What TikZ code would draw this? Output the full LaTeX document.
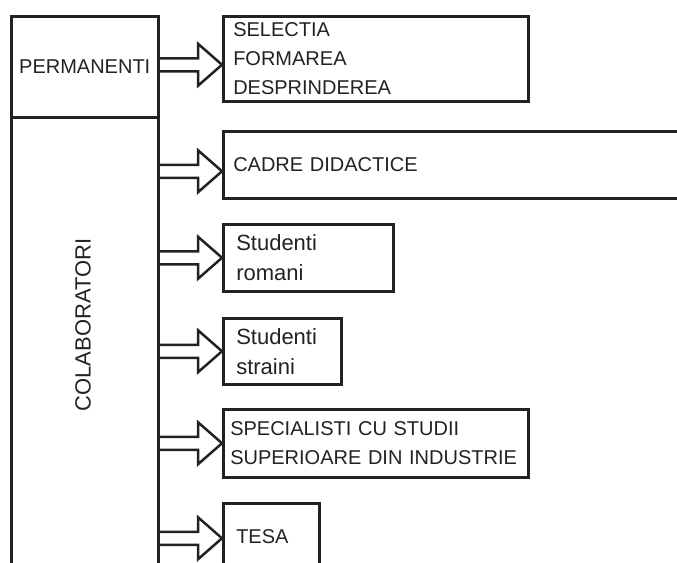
\documentclass[tikz,border=0pt]{standalone}
\usepackage{fontspec}
\setmainfont{Liberation Sans}
\usetikzlibrary{calc}
\hyphenpenalty=10000
\definecolor{ink}{RGB}{34,34,34}
\tikzset{frame/.style={draw=ink,line width=2.5pt,rectangle,inner sep=0pt},
 entry/.style={frame,anchor=north west,inner xsep=10pt,align=left,text=ink,
   font=\fontsize{20}{29}\selectfont},
 lower/.style={font=\fontsize{22}{30}\selectfont},
 fatline/.style={draw=ink,line width=2.5pt},
 every picture/.style={line join=miter}}
\newcommand{\fatarrow}[2]{%
\draw[fatline] ($(#1)+(0,-6.5)$) -- ($(#2)+(-24,-6.5)$) -- ($(#2)+(-24,-21)$) -- (#2)
 -- ($(#2)+(-24,21)$) -- ($(#2)+(-24,6.5)$) -- ($(#1)+(0,6.5)$);}
\begin{document}
\begin{tikzpicture}[x=1pt,y=-1pt]
\useasboundingbox (0,0) rectangle (677,562);
\node[frame,anchor=north west,minimum width=147pt,minimum height=101pt,text=ink,
 font=\fontsize{20}{24}\selectfont] (perm) at (10,15) {PERMANENTI};
\node[frame,anchor=north west,minimum width=147pt,minimum height=460pt] (colab) at (10,116) {};
\node[rotate=90,text=ink,font=\fontsize{22}{26}\selectfont] (colabtxt) at (83,325) {COLABORATORI};
\node[entry,text width=285pt,minimum height=85pt] (b1) at (222,15) {SELECTIA\\FORMAREA\\DESPRINDEREA};
\node[entry,text width=450pt,minimum height=67pt] (b2) at (222,130) {CADRE DIDACTICE};
\node[entry,lower,minimum height=67pt,inner xsep=13pt,text width=144pt] (b3) at (222,223) {Studenti\\romani};
\node[entry,lower,text width=92pt,minimum height=66pt,inner xsep=13pt] (b4) at (222,317) {Studenti\\straini};
\node[entry,text width=291pt,minimum height=68pt,inner xsep=7pt] (b5) at (222,408) {SPECIALISTI CU STUDII\\SUPERIOARE DIN INDUSTRIE};
\node[entry,text width=70pt,minimum height=66pt,inner xsep=13pt] (b6) at (222,502) {TESA};
% arrow tips
\coordinate (t1) at ([yshift=-6pt]b1.west);
\coordinate (t2) at ([yshift=-6.5pt]b2.west);
\coordinate (t3) at (b3.west);
\coordinate (t4) at (b4.west);
\coordinate (t5) at (b5.west);
\coordinate (t6) at ([yshift=-2pt]b6.west);
\fatarrow{perm.east |- t1}{t1}
\foreach \i in {2,...,6}{\fatarrow{colab.east |- t\i}{t\i}}
\end{tikzpicture}
\end{document}
